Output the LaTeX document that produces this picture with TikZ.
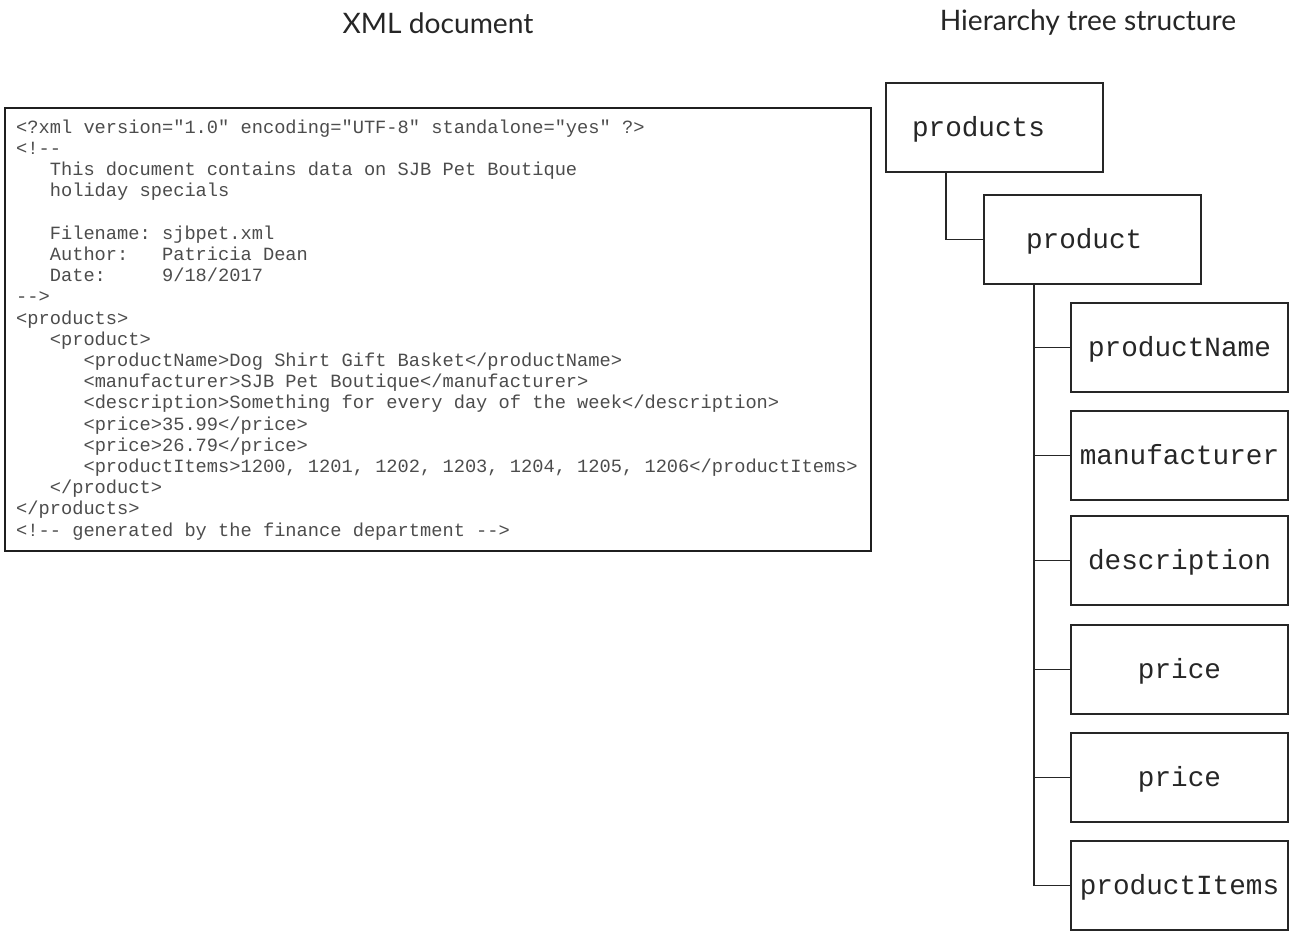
\documentclass[tikz,border=0pt]{standalone}
\usepackage{fontspec}
\setmonofont{Liberation Mono}
\newfontfamily\titlefont{Lato}
\begin{document}
\begin{tikzpicture}[x=1pt,y=-1pt,
  treebox/.style={draw=black!85, line width=1.6pt, minimum width=217pt, minimum height=89pt,
     inner ysep=0pt, text height=18pt, text depth=0pt,
     font=\ttfamily\fontsize{27.7}{30}\selectfont, text=black!85},
  leftbox/.style={treebox, align=left, text width=#1},
  link/.style={draw=black!85, line width=1.6pt},
  title/.style={font=\titlefont\fontsize{28.2}{32}\selectfont, text=black!85, inner sep=0pt}
]
\useasboundingbox (0,0) rectangle (1297,939);
% titles
\node[title] (t1) at (438,23) {XML document};
\node[title] (t2) at (1088,23) {Hierarchy tree structure};
% XML box
\node[draw=black!88, line width=1.6pt, minimum width=866pt, minimum height=443pt, inner sep=0pt] (xmlbox) at (438,329.5) {};
\node[anchor=north west, inner sep=0pt, align=left, text=black!70,
      font=\ttfamily\fontsize{18.7}{21.2}\selectfont] (xmltext) at (16,119) {%
\rule{0pt}{14pt}<?xml version="1.0" encoding="UTF-8" standalone="yes" ?>\\
<!-{}-\\
~~~This document contains data on SJB Pet Boutique\\
~~~holiday specials\\
\mbox{}\\
~~~Filename:~sjbpet.xml\\
~~~Author:~~~Patricia Dean\\
~~~Date:~~~~~9/18/2017\\
-{}->\\
<products>\\
~~~<product>\\
~~~~~~<productName>Dog Shirt Gift Basket</productName>\\
~~~~~~<manufacturer>SJB Pet Boutique</manufacturer>\\
~~~~~~<description>Something for every day of the week</description>\\
~~~~~~<price>35.99</price>\\
~~~~~~<price>26.79</price>\\
~~~~~~<productItems>1200, 1201, 1202, 1203, 1204, 1205, 1206</productItems>\\
~~~</product>\\
</products>\\
<!-{}- generated by the finance department -{}->};
% tree
\node[leftbox=165pt, inner xsep=26pt] (products) at (994.5,127.5) {products};
\node[leftbox=133pt, inner xsep=42pt] (product) at (1092.5,239.5) {product};
\node[treebox] (pname) at (1179.5,347.5) {productName};
\node[treebox] (manu) at (1179.5,455.5) {manufacturer};
\node[treebox] (desc) at (1179.5,560.5) {description};
\node[treebox] (price1) at (1179.5,669.5) {price};
\node[treebox] (price2) at (1179.5,777.5) {price};
\node[treebox] (items) at (1179.5,885.5) {productItems};
\coordinate (trunk) at ([xshift=51pt]product.south west);
\draw[link] ([xshift=61pt]products.south west) |- (product.west);
\draw[link] (trunk) |- (items.west);
\foreach \n in {pname,manu,desc,price1,price2}
  \draw[link] (\n.west) -- (\n.west -| trunk);
\end{tikzpicture}
\end{document}
